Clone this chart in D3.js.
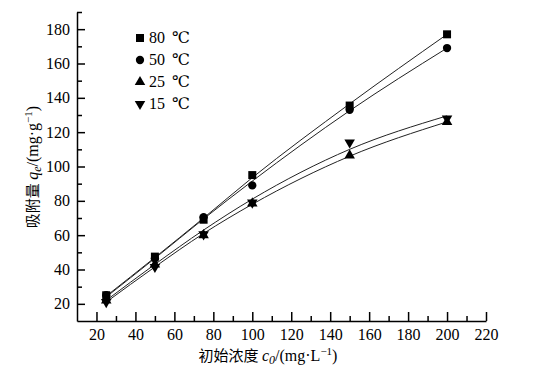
<!DOCTYPE html>
<html>
<head>
<meta charset="utf-8">
<script src="https://cdn.jsdelivr.net/npm/d3@7"></script>
<style>
  body { margin: 0; background: #fff; }
  svg text { font-family: 'Liberation Serif', 'DejaVu Serif', serif; }
</style>
</head>
<body>
<div id="container"></div>
<script>
/* DATA */
const conc = [25, 50, 75, 100, 150, 200];
const seriesNames = ["80 ℃", "50 ℃", "25 ℃", "15 ℃"];
const q80 = [25, 47.5, 69, 95, 135.5, 177];
const q50 = [25, 46.5, 70.5, 89, 133, 169];
const q25 = [22, 43, 60, 78.5, 106.5, 126];
const q15 = [21, 41.5, 60.5, 79, 114, 128];
// fitted curves
const fit80 = [24.5, 47, 70, 93.5, 136.5, 177];
const fit50 = [24, 46.5, 69.5, 91.5, 132.5, 169];
const fit25 = [21, 41.5, 61, 78, 106, 126];
const fit15 = [22, 43, 63, 81, 110, 129.5];
const xTicks = [20, 40, 60, 80, 100, 120, 140, 160, 180, 200, 220];
const yTicks = [20, 40, 60, 80, 100, 120, 140, 160, 180];

/* LAYOUT */
const W = 534, H = 375;
const margin = { top: 12, right: 48, bottom: 54, left: 77 };
const serif = "'Liberation Serif', 'DejaVu Serif', serif";

const svg = d3.select('#container')
  .append('svg')
  .attr('width', W)
  .attr('height', H);

const xScale = d3.scaleLinear().domain([10, 220]).range([margin.left, W - margin.right]);
const yScale = d3.scaleLinear().domain([10, 190]).range([H - margin.bottom, margin.top]);

// minor ticks
const xMinor = d3.range(30, 220, 20);
const yMinor = d3.range(30, 200, 20);

// X axis
svg.append('g')
  .attr('transform', `translate(0, ${H - margin.bottom})`)
  .call(d3.axisBottom(xScale).tickValues(xTicks).tickSize(-9).tickPadding(8).tickSizeOuter(0));
svg.append('g')
  .attr('transform', `translate(0, ${H - margin.bottom})`)
  .call(d3.axisBottom(xScale).tickValues(xMinor).tickSize(-5).tickFormat('').tickSizeOuter(0))
  .select('.domain').remove();

// Y axis
svg.append('g')
  .attr('transform', `translate(${margin.left}, 0)`)
  .call(d3.axisLeft(yScale).tickValues(yTicks).tickSize(-8).tickPadding(7).tickSizeOuter(0));
svg.append('g')
  .attr('transform', `translate(${margin.left}, 0)`)
  .call(d3.axisLeft(yScale).tickValues(yMinor).tickSize(-5).tickFormat('').tickSizeOuter(0))
  .select('.domain').remove();

svg.selectAll('g').attr('font-family', serif);
svg.selectAll('.domain, .tick line').attr('stroke', '#000').attr('stroke-width', 1.5);
svg.selectAll('.tick text').attr('font-size', '16px').attr('fill', '#000');

// fitted lines
const line = d3.line()
  .x((d, i) => xScale(conc[i]))
  .y(d => yScale(d))
  .curve(d3.curveMonotoneX);

[fit80, fit50, fit25, fit15].forEach(f => {
  svg.append('path')
    .datum(f)
    .attr('d', line)
    .attr('fill', 'none')
    .attr('stroke', '#222')
    .attr('stroke-width', 1);
});

// markers
const symbols = [d3.symbolSquare, d3.symbolCircle, d3.symbolTriangle, d3.symbolTriangle];
const symSizes = [64, 54, 48, 48];
const rotations = [0, 0, 0, 180];
const allSeries = [q80, q50, q25, q15];

allSeries.forEach((s, k) => {
  svg.append('g').selectAll('path')
    .data(s)
    .join('path')
    .attr('d', d3.symbol().type(symbols[k]).size(symSizes[k]))
    .attr('transform', (d, i) => `translate(${xScale(conc[i])}, ${yScale(d)}) rotate(${rotations[k]})`)
    .attr('fill', '#000');
});

// legend
const legend = svg.append('g');
seriesNames.forEach((name, k) => {
  const ly = 38 + k * 22;
  const [num, unit] = name.split(' ');
  legend.append('path')
    .attr('d', d3.symbol().type(symbols[k]).size(symSizes[k]))
    .attr('transform', `translate(140, ${ly}) rotate(${rotations[k]})`)
    .attr('fill', '#000');
  const t = legend.append('text')
    .attr('x', 149)
    .attr('y', ly + 5)
    .attr('font-family', serif)
    .attr('font-size', '16px');
  t.append('tspan').text(num);
  t.append('tspan').attr('dx', 7).text(unit);
});

// axis titles
const xt = svg.append('text')
  .attr('x', 268)
  .attr('y', 361)
  .attr('text-anchor', 'middle')
  .attr('font-family', serif)
  .attr('font-size', '16px');
xt.append('tspan').attr('font-family', '"Noto Sans CJK SC", sans-serif').attr('font-size', '15px').text('初始浓度 ');
xt.append('tspan').attr('font-style', 'italic').text('c');
xt.append('tspan').attr('font-style', 'italic').attr('font-size', '12px').attr('dy', 3).text('0');
xt.append('tspan').attr('dy', -3).text('/(mg·L');
xt.append('tspan').attr('font-size', '11px').attr('dy', -6).text('−1');
xt.append('tspan').attr('dy', 6).text(')');

const yt = svg.append('text')
  .attr('transform', `translate(38, 167) rotate(-90)`)
  .attr('text-anchor', 'middle')
  .attr('font-family', serif)
  .attr('font-size', '16px');
yt.append('tspan').attr('font-family', '"Noto Sans CJK SC", sans-serif').attr('font-size', '15px').text('吸附量 ');
yt.append('tspan').attr('font-style', 'italic').text('q');
yt.append('tspan').attr('font-style', 'italic').attr('font-size', '12px').attr('dy', 3).text('e');
yt.append('tspan').attr('dy', -3).text('/(mg·g');
yt.append('tspan').attr('font-size', '11px').attr('dy', -6).text('−1');
yt.append('tspan').attr('dy', 6).text(')');
</script>
</body>
</html>
